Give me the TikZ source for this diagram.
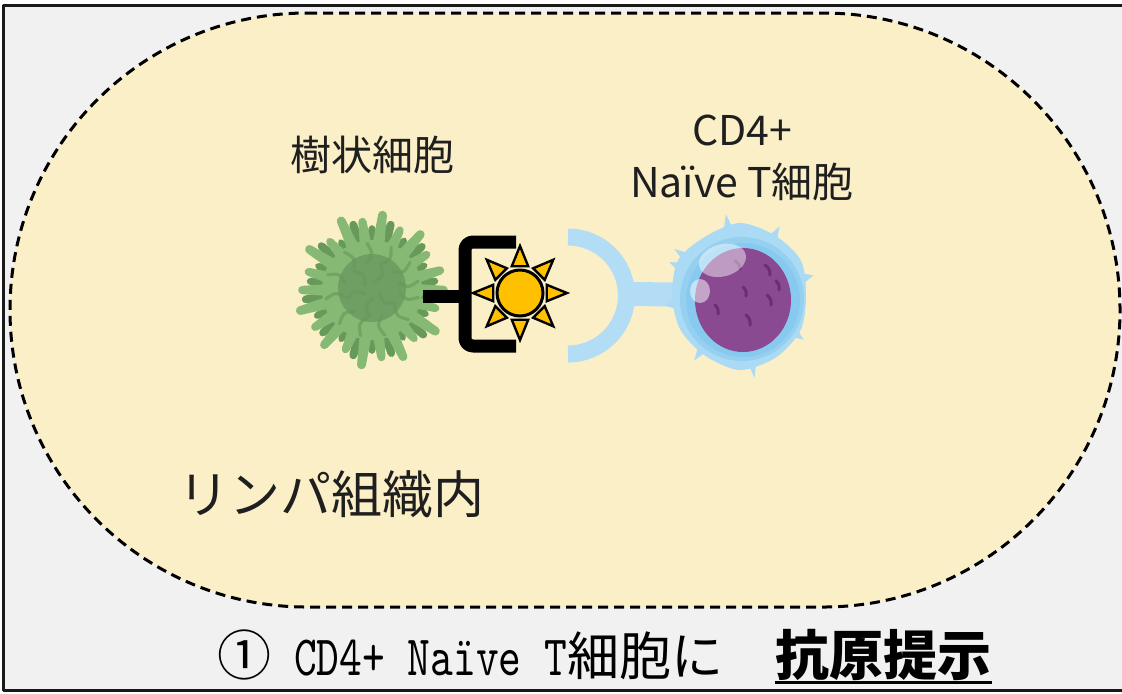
\documentclass[tikz,border=0pt]{standalone}
\usepackage{fontspec}
\usepackage{xcolor}
\usepackage{tikz}
\usetikzlibrary{positioning}
\setmainfont{Noto Sans CJK JP}
\newfontfamily\cjk{Noto Sans CJK JP}
\newfontfamily\ttlatin[FakeStretch=0.76]{lmmono10-regular.otf}
\definecolor{paper}{HTML}{F1F1F1}
\definecolor{tissue}{HTML}{FBEFC8}
\definecolor{dcgreen}{HTML}{86B974}
\definecolor{dcdark}{HTML}{66995A}
\definecolor{dcnucleus}{HTML}{6F9F63}
\definecolor{sunyellow}{HTML}{FFC000}
\definecolor{tcrblue}{HTML}{B2DDF5}
\definecolor{tcellblue}{HTML}{ABDAF4}
\definecolor{tcellring}{HTML}{7DC4EE}
\definecolor{nucleus}{HTML}{8A4A91}
\definecolor{nucleusdark}{HTML}{6A2E72}
\tikzset{
    celltext/.style = {align=center, text=black!88, inner sep=0pt, font=\fontsize{20.5}{26}\selectfont},
    bond/.style = {line width=6.5pt, black},
    tcrarm/.style = {line width=8.5pt, tcrblue},
    sunray/.style = {fill=sunyellow, draw=black, line width=1.2pt, line join=miter},
    tissuezone/.style = {fill=tissue, draw=black, line width=1.5pt, dash pattern=on 5pt off 3pt},
    ridge/.style = {dcdark, line width=1.6pt, line cap=round, opacity=.6},
    chromatin/.style = {nucleusdark, line width=1.5pt, line cap=round},
}
\begin{document}
\begin{tikzpicture}[x=0.5pt, y=-0.5pt, line join=round]
\useasboundingbox (0,0) rectangle (1122,693);
\fill[white] (0,0) rectangle (1122,693);
\fill[paper] (3,5) rectangle (1130,690);
\filldraw[tissuezone] (307,13) -- (823,13) arc (-90:90:297) -- (307,607) arc (90:270:297) -- cycle;
\draw[line width=1.5pt, black!90] (1130,5) -- (3,5) -- (3,690) -- (1130,690);
%
\coordinate (dc) at (372,290);
\coordinate (dcedge) at (423,296);
\coordinate (mhc) at (465,296);
\coordinate (antigen) at (520,293);
\coordinate (tcr) at (568,295);
\coordinate (tcrstem) at (626,294);
\coordinate (tcell) at (740,295);
%
\begin{scope}[shift={(dc)}]
\foreach \a/\r in {8/66,24/62,41/72,57/60,73/70,90/64,106/72,122/61,139/69,155/64,172/71,188/66,204/62,221/71,237/60,254/72,270/65,286/72,303/62,319/70,335/61,352/67}
    \fill[dcdark, rounded corners=2pt] (\a-8:38) -- (\a-3:\r) -- (\a+3:\r) -- (\a+8:38) -- cycle;
\foreach \a/\r in {0/76,16/70,33/80,49/68,65/78,82/72,98/80,114/69,131/77,147/72,164/79,180/74,196/70,213/79,229/68,246/80,262/73,278/80,295/70,311/78,327/69,344/75}
    \fill[dcgreen, rounded corners=2pt] (\a-9:40) -- (\a-3:\r) -- (\a+3:\r) -- (\a+9:40) -- cycle;
\fill[dcgreen] (0,0) circle (50);
\fill[dcnucleus] (0,-2) circle (34);
\foreach \a in {5,35,70,100,130,165,195,230,260,290,320,345}
    \draw[ridge] (\a:28) .. controls (\a+12:36) .. (\a+4:47);
\foreach \a in {20,85,150,215,280}
    \draw[ridge, opacity=.5] (\a:8) .. controls (\a+30:18) .. (\a+10:26);
\end{scope}
\draw[bond] (dcedge) -- (mhc);
\draw[bond, rounded corners=4pt] (516,242) -| (mhc) |- (516,346);
%
\begin{scope}[shift={(antigen)}]
\foreach \a in {0,45,...,315}
    \filldraw[sunray] (\a-17:28) -- (\a:47) -- (\a+17:28) -- cycle;
\filldraw[fill=sunyellow, draw=black, line width=1.5pt] (0,0) circle (23);
\end{scope}
%
\draw[tcrarm] (568,237) arc (-90:90:58.5);
\draw[line width=12pt, tcrblue] (tcrstem) -- (tcell);
%
\begin{scope}[shift={(tcell)}]
\foreach \a/\l in {-100/82,-145/80,-60/79,-15/76,35/78,80/84,125/80,172/76,205/78}
    \fill[tcellblue] (\a-5:64) -- (\a:\l) -- (\a+5:64) -- cycle;
\fill[tcellblue] plot[smooth cycle] coordinates {(0:66) (30:70) (60:72) (90:75) (120:70) (150:69) (180:68) (210:71) (240:68) (270:72) (300:69) (330:70)};
\fill[tcellring, opacity=.45] (2,4) circle (62);
\fill[tcellring, opacity=.55] (3,5) circle (57);
\fill[nucleus] (3,5) ellipse [x radius=48, y radius=52];
\draw[chromatin] (25,-30) to[bend left=30] ++(5,10);
\draw[chromatin] (3,-8) to[bend left=30] ++(3,9);
\draw[chromatin] (27,0) to[bend left=30] ++(4,10);
\draw[chromatin] (-25,10) to[bend left=30] ++(3,9);
\draw[chromatin] (6,20) to[bend left=30] ++(4,10);
\draw[chromatin] (-5,-34) to[bend left=30] ++(5,8);
\draw[chromatin] (36,-14) to[bend left=30] ++(3,9);
\fill[white, opacity=.45, rotate=15] (-8,-38) ellipse [x radius=24, y radius=16];
\fill[white, opacity=.5] (-40,-4) ellipse [x radius=10, y radius=12];
\end{scope}
%
\node[celltext] (dclabel) at (372,155) {樹状細胞};
\node[celltext] (tlabel) at (742,158) {CD4+\\Naïve T細胞};
\node[anchor=west, inner sep=0pt, text=black!88, font=\fontsize{25.5}{30}\selectfont] (tissuelabel) at (178,494) {リンパ組織内};
%
\node[anchor=base west, inner sep=0pt] (caption) at (217,675)
    {{\cjk\fontsize{27}{30}\selectfont ①}{\ttlatin\fontsize{28.5}{30}\selectfont\ CD4+ Naïve T}{\cjk\fontsize{26}{30}\selectfont 細胞に}};
\node[anchor=base west, inner sep=0pt, font=\cjk\bfseries\fontsize{27}{30}\selectfont] (keyword) at (775,675) {抗原提示};
\draw[line width=1.5pt] ([yshift=-3.6pt]keyword.base west) -- ([yshift=-3.6pt]keyword.base east);
\end{tikzpicture}
\end{document}
